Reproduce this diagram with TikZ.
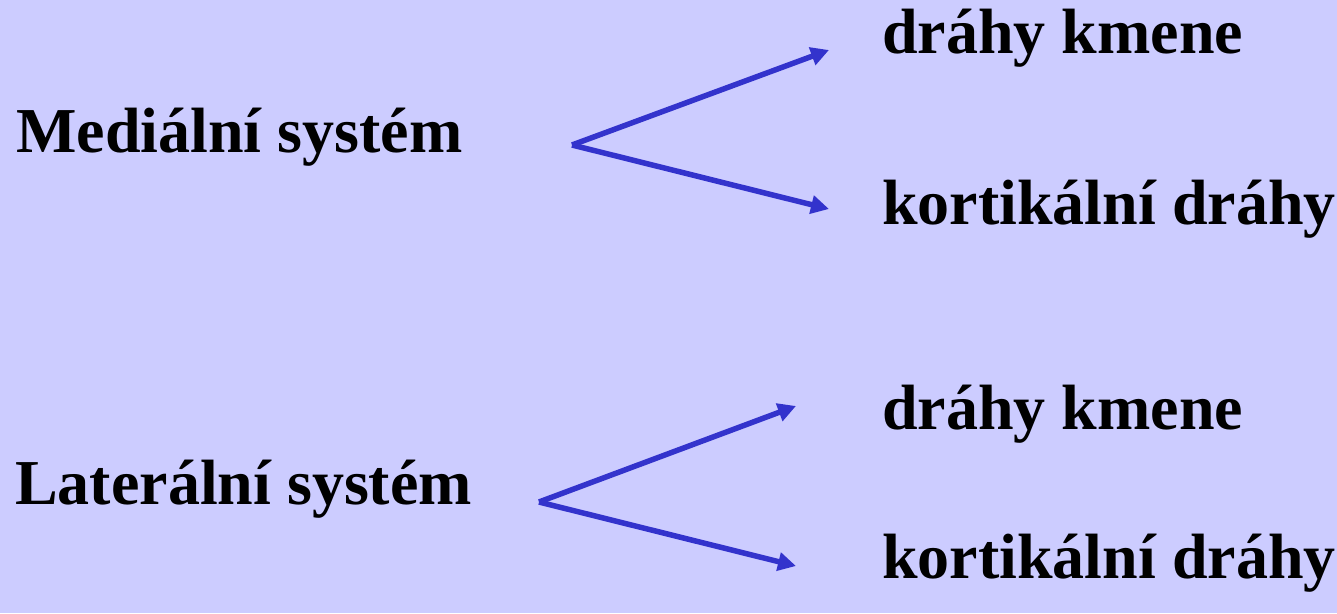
\documentclass[tikz,border=0pt]{standalone}
\usepackage{fontspec}
\setmainfont{Liberation Serif}
\usetikzlibrary{arrows.meta}
\definecolor{bgcol}{HTML}{CCCCFF}
\definecolor{arrcol}{HTML}{3333CC}
\begin{document}
\begin{tikzpicture}[x=1pt,y=-1pt,
  lbl/.style={anchor=base west,inner sep=0pt,font=\fontsize{64}{70}\selectfont\bfseries},
  branch/.style={draw=arrcol,line width=5.5pt,-{Triangle[length=18pt,width=18pt]}}]
\fill[bgcol] (0,0) rectangle (1337,613);
\useasboundingbox (0,0) rectangle (1337,613);
% top group
\node[lbl] (med) at (16,152) {Mediální systém};
\node[lbl] (mk) at (882,53) {dráhy kmene};
\node[lbl] (mc) at (882,224) {kortikální dráhy};
\coordinate (ms) at (572,145);
\coordinate (mke) at (829,50);
\coordinate (mce) at (829,209);
\draw[branch] (ms) -- (mke);
\draw[branch] (ms) -- (mce);
% bottom group
\node[lbl] (lat) at (15,504) {Laterální systém};
\node[lbl] (lk) at (882,429) {dráhy kmene};
\node[lbl] (lc) at (882,578) {kortikální dráhy};
\coordinate (ls) at (539,502);
\coordinate (lke) at (796,406);
\coordinate (lce) at (796,566);
\draw[branch] (ls) -- (lke);
\draw[branch] (ls) -- (lce);
\end{tikzpicture}
\end{document}
